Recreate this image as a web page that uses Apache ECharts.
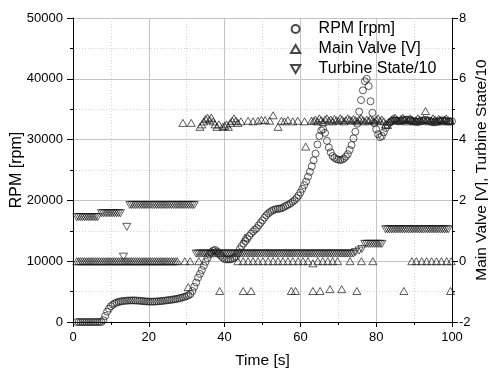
<!DOCTYPE html>
<html><head><meta charset="utf-8">
<script src="https://cdn.jsdelivr.net/npm/echarts@6/dist/echarts.min.js"></script>
<style>html,body{margin:0;padding:0;background:#fff}#c{width:488px;height:370px}</style>
</head><body><div id="c"></div>
<script>
// RPM [rpm] samples: [time s, rpm]
const rpm = [[1,0],[1.5,0],[2,0],[2.5,0],[3,0],[3.5,0],[4,0],[4.5,0],[5,0],[5.5,0],[6,0],[6.5,0],[7,0],[7.5,0],
[8,300],[8.5,1000],[9,1700],[9.5,2200],[10,2600],[10.5,2850],[11,3050],[11.5,3200],[12,3300],[12.5,3380],[13,3430],[13.5,3470],[14,3500],[14.5,3520],[15,3540],[15.5,3550],[16,3550],[16.5,3540],[17,3520],[17.5,3490],[18,3460],[18.5,3430],[19,3400],[19.5,3380],[20,3360],[20.5,3350],[21,3350],[21.5,3360],[22,3380],[22.5,3400],[23,3430],[23.5,3460],[24,3500],[24.5,3540],[25,3580],[25.5,3620],[26,3660],[26.5,3710],[27,3760],[27.5,3820],[28,3890],[28.5,3970],[29,4060],[29.5,4160],[30,4270],[30.5,4400],[31,4600],[31.5,5100],[32,5800],[32.5,6500],[33,7300],[33.5,7900],[34,8550],[34.5,9250],[35,9900],[35.5,10500],[36,11100],[36.5,11500],[37,11750],[37.5,11850],[38,11600],[38.5,11200],[39,10900],[39.5,10600],[40,10350],[40.5,10300],[41,10300],[41.5,10300],[42,10400],[42.5,10550],[43,10750],[43.5,11300],[44,12000],[44.5,12500],[45,12900],[45.5,13300],[46,13700],[46.5,14150],[47,14550],[47.5,14900],[48,15200],[48.5,15450],[49,15900],[49.5,16300],[50,16700],[50.5,17150],[51,17550],[51.5,17850],[52,18100],[52.5,18300],[53,18450],[53.5,18550],[54,18600],[54.5,18650],[55,18700],[55.5,18850],[56,19050],[56.5,19200],[57,19350],[57.5,19550],[58,19800],[58.5,20050],[59,20400],[59.5,20800],[60,21300],[60.5,21900],[61,22500],[61.5,23100],[62,23900],[62.5,24700],[63,25600],[63.5,26600],[64,27700],[64.5,29200],[65,30600],[65.5,31500],[66,31700],[66.5,31100],[67,29800],[67.5,28700],[68,27900],[68.5,27300],[69,27000],[69.5,26800],[70,26700],[70.5,26650],[71,26700],[71.5,26900],[72,27200],[72.5,27600],[73,28300],[73.5,29100],[74,30200],[74.5,31300],[75,32600],[75.5,34600],[76,36500],[76.5,38100],[77,39600],[77.5,40000],[78,38800],[78.5,36300],[79,34400],[79.5,32700],[80,31700],[80.5,30900],[81,30400],[81.5,30600],[82,31200],[82.5,31900],[83,32400],[83.5,32800],[84,33000],[84.5,33100],[85,33150],[85.5,33100],[86,33000],[86.5,33050],[87,33150],[87.5,33250],[88,33300],[88.5,33250],[89,33150],[89.5,33050],[90,33000],[90.5,32950],[91,32900],[91.5,32950],[92,33050],[92.5,33150],[93,33200],[93.5,33150],[94,33050],[94.5,32950],[95,32850],[95.5,32850],[96,32900],[96.5,33000],[97,33100],[97.5,33150],[98,33100],[98.5,33000],[99,32950],[99.5,32950],[100,33000]];

// Main Valve [V]: closed level (0 V)
const valveZero = [[1,0],[1.5,0],[2,0],[2.5,0],[3,0],[3.5,0],[4,0],[4.5,0],[5,0],[5.5,0],[6,0],[6.5,0],[7,0],[7.5,0],[8,0],[8.5,0],[9,0],[9.5,0],[10,0],[10.5,0],[11,0],[11.5,0],[12,0],[12.5,0],[13,0],[13.5,0],[14,0],[14.5,0],[15,0],[15.5,0],[16,0],[16.5,0],[17,0],[17.5,0],[18,0],[18.5,0],[19,0],[19.5,0],[20,0],[20.5,0],[21,0],[21.5,0],[22,0],[22.5,0],[23,0],[23.5,0],[24,0],[24.5,0],[25,0],[25.5,0],[26,0],[26.5,0],[27,0],[27.5,0],
[29.5,0],[30.9,0],[33.2,0],
[43.5,0],[44.9,0],[46.2,0],[47.5,0],[48.8,0],[50.1,0],[51.5,0],[52.8,0],[54.1,0],[55.4,0],[56.7,0],[58,0],[59.4,0],[60.7,0],[62,0],[63.3,-0.07],[64.6,0],[65.9,0],[67.2,0],[68.5,0],[69.8,0],[73.1,0],[76.1,0],[79.1,0],
[89.4,0],[90.6,0],[92,0],[93.3,0],[94.6,0],[95.9,0],[97.2,0],[98.6,0],[99.8,0]];
// Main Valve [V]: open level (~4.6 V)
const valveOpen = [[29,4.55],[31.2,4.55],[33.5,4.42],[34,4.5],[34.5,4.6],[35,4.68],[35.5,4.72],[36,4.65],[36.5,4.72],[37,4.6],[37.5,4.5],[38,4.42],[38.5,4.5],[39.5,4.42],[40,4.45],[40.5,4.5],[41,4.42],[41.5,4.55],[42,4.62],[42.5,4.7],[43,4.62],[43.5,4.55],[44.3,4.6],
[46.2,4.62],[47.5,4.6],[48.8,4.62],[49.7,4.65],[50.7,4.64],[51.9,4.62],[52.8,4.8],[54.1,4.42],[55,4.62],[55.8,4.6],[56.7,4.64],[58,4.6],[59.3,4.62],[61.1,4.6],[62.9,4.62],
[63.5,4.62],[64,4.66],[64.5,4.6],[65,4.7],[65.5,4.64],[66,4.58],[66.5,4.66],[67,4.7],[67.5,4.62],[68,4.66],[68.5,4.6],[69,4.68],[69.5,4.64],[70,4.62],[70.5,4.7],[71,4.66],[71.5,4.6],[72,4.64],[72.5,4.7],[73,4.66],[73.5,4.62],[74,4.68],[74.5,4.64],[75,4.6],[75.5,4.66],[76,4.7],[76.5,4.64],[77,4.6],[77.5,4.66],[78,4.62],[78.5,4.68],[79,4.64],[79.5,4.6],[80,4.66],[80.5,4.7],[81,4.62],[81.5,4.66],[82,4.6],[82.5,4.5],[83,4.48],[83.5,4.6],[84,4.66],[84.5,4.7],[85,4.72],[85.5,4.66],[86,4.62],[86.5,4.68],[87,4.72],[87.5,4.66],[88,4.6],[88.5,4.64],[89,4.7],[89.5,4.66],[90,4.6],[90.5,4.64],[91,4.7],[91.5,4.66],[92,4.62],[92.5,4.68],[93,4.94],[93.5,4.66],[94,4.6],[94.5,4.64],[95,4.7],[95.5,4.66],[96,4.62],[96.5,4.68],[97,4.64],[97.5,4.6],[98,4.66],[98.5,4.7],[99,4.64],[99.5,4.62]];
// Main Valve [V]: low readings and stray points
const valveLow = [[30.4,-0.85],[38.7,-0.98],[44.9,-0.98],[47,-0.98],[57.6,-0.98],[58.7,-0.98],[63.3,-0.98],[65.2,-0.98],[67.8,-0.92],[70.9,-0.92],[74.9,-0.98],[87.3,-0.98],[99.6,-0.98]];
const valveStray = [[45.4,0.78],[61.4,3.77]];

// Turbine State/10
const turbineA = [[1,1.45],[1.5,1.45],[2,1.45],[2.5,1.45],[3,1.45],[3.5,1.45],[4,1.45],[4.5,1.45],[5,1.45],[5.5,1.45],[6,1.45],[6.5,1.45]];
const turbineB = [[7.5,1.58],[8,1.58],[8.5,1.58],[9,1.58],[9.5,1.58],[10,1.58],[10.5,1.58],[11,1.58],[11.5,1.58],[12,1.58],[12.5,1.58],[13.3,0.15],[14.2,1.13]];
const turbineC = [[15,1.85],[15.5,1.85],[16,1.85],[16.5,1.85],[17,1.85],[17.5,1.85],[18,1.85],[18.5,1.85],[19,1.85],[19.5,1.85],[20,1.85],[20.5,1.85],[21,1.85],[21.5,1.85],[22,1.85],[22.5,1.85],[23,1.85],[23.5,1.85],[24,1.85],[24.5,1.85],[25,1.85],[25.5,1.85],[26,1.85],[26.5,1.85],[27,1.85],[27.5,1.85],[28,1.85],[28.5,1.85],[29,1.85],[29.5,1.85],[30,1.85],[30.5,1.85],[31,1.85],[31.5,1.85],[32,1.85]];
const turbineD = [[32.5,0.25],[33,0.25],[33.5,0.25],[34,0.25],[34.5,0.25],[35,0.25],[35.5,0.25],[36,0.25],[36.5,0.25],[37,0.25],[37.5,0.25],[38,0.25],[38.5,0.25],[39,0.25],[39.5,0.25],[40,0.25],[40.5,0.25],[41,0.25],[41.5,0.25],[42,0.25],[42.5,0.25],[43,0.25],[43.5,0.25],[44,0.25],[44.5,0.25],[45,0.25],[45.5,0.25],[46,0.25],[46.5,0.25],[47,0.25],[47.5,0.25],[48,0.25],[48.5,0.25],[49,0.25],[49.5,0.25],[50,0.25],[50.5,0.25],[51,0.25],[51.5,0.25],[52,0.25],[52.5,0.25],[53,0.25],[53.5,0.25],[54,0.25],[54.5,0.25],[55,0.25],[55.5,0.25],[56,0.25],[56.5,0.25],[57,0.25],[57.5,0.25],[58,0.25],[58.5,0.25],[59,0.25],[59.5,0.25],[60,0.25],[60.5,0.25],[61,0.25],[61.5,0.25],[62,0.25],[62.5,0.25],[63,0.25],[63.5,0.25],[64,0.25],[64.5,0.25],[65,0.25],[65.5,0.25],[66,0.25],[66.5,0.25],[67,0.25],[67.5,0.25],[68,0.25],[68.5,0.25],[69,0.25],[69.5,0.25],[70,0.25],[70.5,0.25],[71,0.25],[71.5,0.25],[72,0.25],[72.5,0.25],[73,0.25],[73.5,0.25],[74,0.25],[74.5,0.3],[75.5,0.35],[76.2,0.4]];
const turbineE = [[77,0.57],[77.5,0.57],[78,0.57],[78.5,0.57],[79,0.57],[79.5,0.57],[80,0.57],[80.5,0.57],[81,0.57],[81.5,0.57]];
const turbineF = [[82.5,1.05],[83,1.05],[83.5,1.05],[84,1.05],[84.5,1.05],[85,1.05],[85.5,1.05],[86,1.05],[86.5,1.05],[87,1.05],[87.5,1.05],[88,1.05],[88.5,1.05],[89,1.05],[89.5,1.05],[90,1.05],[90.5,1.05],[91,1.05],[91.5,1.05],[92,1.05],[92.5,1.05],[93,1.05],[93.5,1.05],[94,1.05],[94.5,1.05],[95,1.05],[95.5,1.05],[96,1.05],[96.5,1.05],[97,1.05],[97.5,1.05],[98,1.05],[98.5,1.05],[99,1.05]];

const seriesNames = ['RPM [rpm]', 'Main Valve [V]', 'Turbine State/10'];
const xTicks = {min: 0, max: 100, interval: 20};
const yLeftTicks = {min: 0, max: 50000, interval: 10000};
const yRightTicks = {min: -2, max: 8, interval: 2};

const FONT = '"Liberation Sans", Arial, sans-serif';
const openStyle = {color: 'rgba(255,255,255,0)', borderColor: '#1a1a1a', borderWidth: 0.9};
const major = {show: true, lineStyle: {color: '#c4c4c4', width: 1, type: 'solid'}};
const minor = {show: true, lineStyle: {color: '#d4d4d4', width: 1, type: [1, 2]}};
const axisLine = {show: true, lineStyle: {color: '#000', width: 1}};
const UP = 'path://M5,0L10,8.66L0,8.66Z';
const DOWN = 'path://M0,0L10,0L5,8.66Z';
const plain = v => String(v);

const chart = echarts.init(document.getElementById('c'), null, {renderer: 'canvas'});
chart.setOption({
  animation: false,
  backgroundColor: '#fff',
  textStyle: {fontFamily: FONT},
  grid: {left: 73, right: 36, top: 18, bottom: 48, containLabel: false, outerBoundsMode: 'none'},
  legend: {
    orient: 'vertical', left: 290, top: 21, padding: 0,
    itemWidth: 36, itemHeight: 8, itemGap: 4,
    textStyle: {fontSize: 16, lineHeight: 16, color: '#000', fontFamily: FONT},
    data: seriesNames, selectedMode: false
  },
  xAxis: {
    type: 'value', min: xTicks.min, max: xTicks.max, interval: xTicks.interval,
    name: 'Time [s]', nameLocation: 'middle', nameGap: 31, nameMoveOverlap: false,
    nameTextStyle: {fontSize: 15.5, color: '#000', fontFamily: FONT},
    axisLine: axisLine,
    axisTick: {show: true, inside: false, length: 5, lineStyle: {color: '#000'}},
    minorTick: {show: true, splitNumber: 2, length: 3, lineStyle: {color: '#000'}},
    axisLabel: {fontSize: 13, color: '#000', margin: 9, fontFamily: FONT, formatter: plain},
    splitLine: major, minorSplitLine: minor
  },
  yAxis: [{
    type: 'value', position: 'left', min: yLeftTicks.min, max: yLeftTicks.max, interval: yLeftTicks.interval,
    name: 'RPM [rpm]', nameLocation: 'middle', nameRotate: 90, nameGap: 48, nameMoveOverlap: false,
    nameTextStyle: {fontSize: 16, color: '#000', fontFamily: FONT},
    axisLine: axisLine,
    axisTick: {show: true, inside: false, length: 6, lineStyle: {color: '#000'}},
    minorTick: {show: true, splitNumber: 2, length: 3, lineStyle: {color: '#000'}},
    axisLabel: {fontSize: 13, color: '#000', margin: 10, fontFamily: FONT, formatter: plain},
    splitLine: major, minorSplitLine: minor
  }, {
    type: 'value', position: 'right', min: yRightTicks.min, max: yRightTicks.max, interval: yRightTicks.interval,
    name: 'Main Valve [V], Turbine State/10', nameLocation: 'middle', nameRotate: 90, nameGap: 22, nameMoveOverlap: false,
    nameTextStyle: {fontSize: 15.5, color: '#000', fontFamily: FONT},
    axisLine: axisLine,
    axisTick: {show: true, inside: false, length: 6, lineStyle: {color: '#000'}},
    minorTick: {show: true, splitNumber: 2, length: 3, lineStyle: {color: '#000'}},
    axisLabel: {fontSize: 13, color: '#000', margin: 7, fontFamily: FONT, formatter: plain},
    splitLine: {show: false}, minorSplitLine: {show: false}
  }],
  series: [{
    name: seriesNames[0], type: 'scatter', yAxisIndex: 0, symbol: 'circle', symbolSize: 7,
    itemStyle: openStyle, silent: true, data: rpm, z: 3
  }, {
    name: seriesNames[1], type: 'scatter', yAxisIndex: 1, symbol: UP, symbolSize: [8, 7],
    itemStyle: openStyle, silent: true, z: 2,
    data: [].concat(valveZero, valveOpen, valveLow, valveStray)
  }, {
    name: seriesNames[2], type: 'scatter', yAxisIndex: 1, symbol: DOWN, symbolSize: [8, 7],
    itemStyle: openStyle, silent: true, z: 2,
    data: [].concat(turbineA, turbineB, turbineC, turbineD, turbineE, turbineF)
  }]
});
</script></body></html>
